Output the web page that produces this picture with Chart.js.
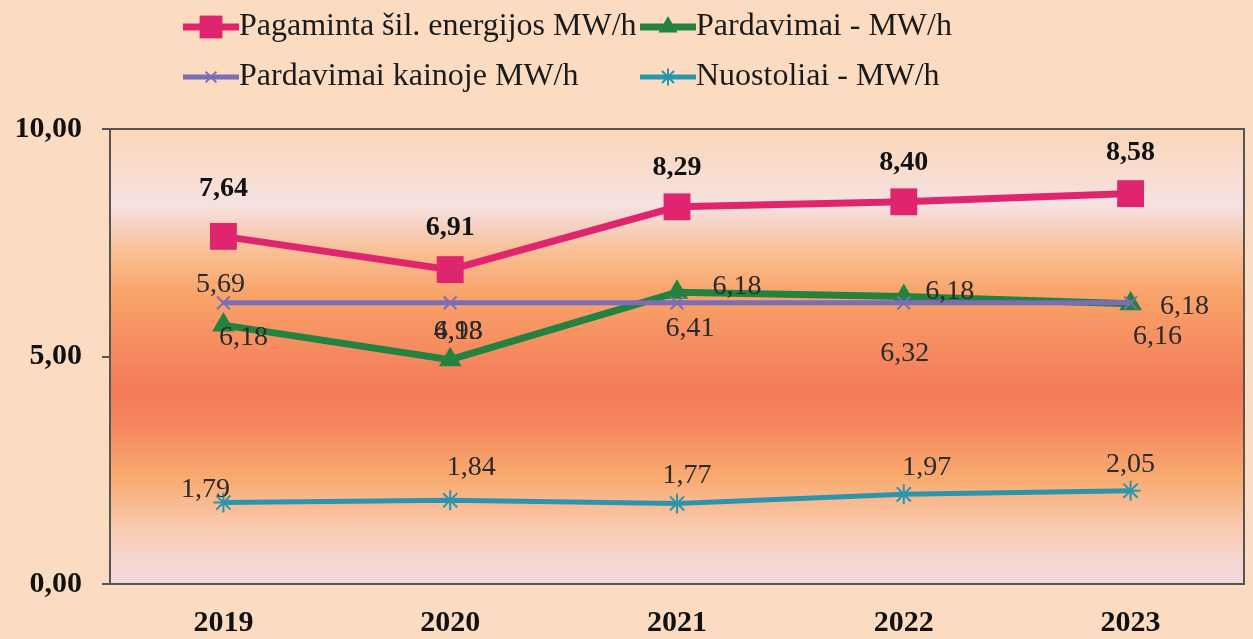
<!DOCTYPE html>
<html>
<head>
<meta charset="utf-8">
<script src="https://cdn.jsdelivr.net/npm/chart.js@4.4.1/dist/chart.umd.min.js"></script>
<style>
  html, body { margin: 0; padding: 0; background: #fbdcc0; overflow: hidden; }
  #wrap { width: 1253px; height: 639px; position: relative; }
  canvas { display: block; }
</style>
</head>
<body>
<div id="wrap"><canvas id="chart"></canvas></div>
<script>
const years = ["2019", "2020", "2021", "2022", "2023"];
const pagaminta = [7.64, 6.91, 8.29, 8.40, 8.58];
const pardavimai = [5.69, 4.93, 6.41, 6.32, 6.16];
const pardavimaiKainoje = [6.18, 6.18, 6.18, 6.18, 6.18];
const nuostoliai = [1.79, 1.84, 1.77, 1.97, 2.05];
const yTicks = [0, 5, 10];

const serif = "'Liberation Serif', 'Times New Roman', serif";
const fmt = (v) => v.toFixed(2).replace(".", ",");

// where each value label sits relative to its point, like in the scanned original
const labelOffsets = [
  [[0, -48], [0, -42], [0, -39], [0, -39], [0, -41]],
  [[-3, -40], [8, -28], [13, 36], [1, 57], [27, 33]],
  [[20, 35], [8, 29], [60, -16], [46, -11], [54, 4]],
  [[-18, -13], [21, -33], [10, -28], [23, -27], [0, -26]],
];

const legendSpots = [
  { x: 183, y: 27 },
  { x: 640, y: 27 },
  { x: 183, y: 77 },
  { x: 640, y: 77 },
];

const plotBackground = {
  id: "plotBackground",
  beforeDraw(chart) {
    const { ctx, chartArea: a } = chart;
    const g = ctx.createLinearGradient(0, a.top, 0, a.bottom);
    g.addColorStop(0, "#fbd5b8");
    g.addColorStop(0.165, "#f6e2e0");
    g.addColorStop(0.2, "#f6d6cc");
    g.addColorStop(0.27, "#f9bf94");
    g.addColorStop(0.36, "#f8a46a");
    g.addColorStop(0.57, "#f47a58");
    g.addColorStop(0.65, "#f5875e");
    g.addColorStop(0.76, "#f8a96e");
    g.addColorStop(0.88, "#f9cbb0");
    g.addColorStop(0.97, "#f4d8d8");
    g.addColorStop(1, "#f3d8dc");
    ctx.save();
    ctx.fillStyle = g;
    ctx.fillRect(a.left, a.top, a.right - a.left, a.bottom - a.top);
    ctx.strokeStyle = "#555";
    ctx.lineWidth = 2;
    ctx.beginPath();
    ctx.moveTo(a.left, a.top);
    ctx.lineTo(a.right, a.top);
    ctx.lineTo(a.right, a.bottom);
    ctx.stroke();
    ctx.restore();
  },
};

const valueLabels = {
  id: "valueLabels",
  afterDatasetsDraw(chart) {
    const { ctx } = chart;
    ctx.save();
    ctx.textAlign = "center";
    ctx.textBaseline = "middle";
    chart.data.datasets.forEach((ds, i) => {
      // the produced-energy labels come out heavier in the original
      ctx.font = (i === 0 ? "bold " : "") + "28px " + serif;
      ctx.fillStyle = i === 0 ? "#111" : "#2a2a2a";
      chart.getDatasetMeta(i).data.forEach((pt, j) => {
        const [dx, dy] = labelOffsets[i][j];
        ctx.fillText(fmt(ds.data[j]), pt.x + dx, pt.y + dy);
      });
    });
    ctx.restore();
  },
};

const lineLegend = {
  id: "lineLegend",
  afterDraw(chart) {
    const { ctx } = chart;
    ctx.save();
    chart.data.datasets.forEach((ds, i) => {
      const { x, y } = legendSpots[i];
      ctx.strokeStyle = ds.borderColor;
      ctx.lineWidth = ds.borderWidth;
      ctx.beginPath();
      ctx.moveTo(x, y);
      ctx.lineTo(x + 56, y);
      ctx.stroke();
      ctx.fillStyle = ds.pointBackgroundColor;
      ctx.strokeStyle = ds.pointBorderColor;
      ctx.lineWidth = ds.pointBorderWidth;
      Chart.helpers.drawPoint(ctx, {
        pointStyle: ds.pointStyle,
        radius: ds.pointRadius * 0.85,
        borderWidth: ds.pointBorderWidth,
        rotation: 0,
      }, x + 28, y);
      ctx.fillStyle = "#1a1a1a";
      ctx.font = "32px " + serif;
      ctx.textBaseline = "middle";
      ctx.fillText(ds.label, x + 56, y);
    });
    ctx.restore();
  },
};

new Chart(document.getElementById("chart"), {
  type: "line",
  data: {
    labels: years,
    datasets: [
      {
        label: "Pagaminta šil. energijos MW/h",
        data: pagaminta,
        borderColor: "#e0256f",
        borderWidth: 7,
        pointStyle: "rect",
        pointRadius: 19,
        pointBorderWidth: 0,
        pointBackgroundColor: "#e0256f",
        pointBorderColor: "#e0256f",
        order: 0,
      },
      {
        label: "Pardavimai - MW/h",
        data: pardavimai,
        borderColor: "#23823f",
        borderWidth: 7,
        pointStyle: "triangle",
        pointRadius: 13,
        pointBorderWidth: 0,
        pointBackgroundColor: "#23823f",
        pointBorderColor: "#23823f",
        order: 2,
      },
      {
        label: "Pardavimai kainoje MW/h",
        data: pardavimaiKainoje,
        borderColor: "#7b6db8",
        borderWidth: 5,
        pointStyle: "crossRot",
        pointRadius: 9,
        pointBorderWidth: 2,
        pointBackgroundColor: "#7b6db8",
        pointBorderColor: "#7b6db8",
        order: 1,
      },
      {
        label: "Nuostoliai - MW/h",
        data: nuostoliai,
        borderColor: "#2b95ad",
        borderWidth: 5,
        pointStyle: "star",
        pointRadius: 10,
        pointBorderWidth: 2,
        pointBackgroundColor: "#2b95ad",
        pointBorderColor: "#2b95ad",
        order: 3,
      },
    ],
  },
  options: {
    responsive: true,
    maintainAspectRatio: false,
    animation: false,
    layout: { autoPadding: false, padding: { top: 129, right: 9, left: 0, bottom: 0 } },
    plugins: {
      legend: { display: false },
      tooltip: { enabled: false },
    },
    scales: {
      x: {
        offset: true,
        grid: { display: false },
        border: { display: true, color: "#555", width: 2 },
        ticks: {
          color: "#111",
          padding: 13,
          font: { family: serif, size: 30, weight: "bold" },
        },
        afterFit(scale) {
          scale.height = 55;
        },
      },
      y: {
        min: 0,
        max: 10,
        afterBuildTicks(scale) {
          scale.ticks = yTicks.map((v) => ({ value: v }));
        },
        grid: {
          drawOnChartArea: false,
          drawTicks: true,
          tickLength: 8,
          color: "#555",
          lineWidth: 2,
        },
        border: { display: true, color: "#555", width: 2 },
        ticks: {
          color: "#111",
          padding: 20,
          font: { family: serif, size: 30, weight: "bold" },
          callback: (v) => fmt(v),
        },
        afterFit(scale) {
          scale.width = 110;
        },
      },
    },
  },
  plugins: [plotBackground, valueLabels, lineLegend],
});
</script>
</body>
</html>
